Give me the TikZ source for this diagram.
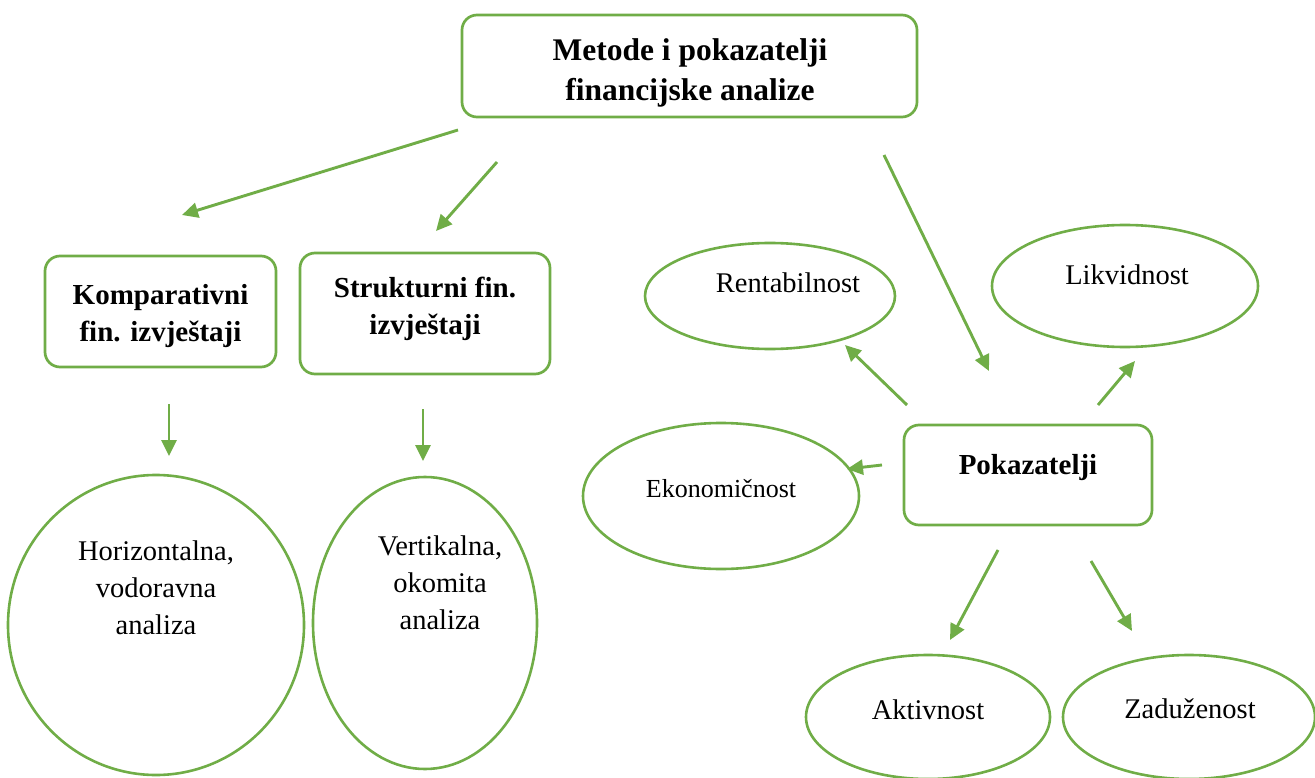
\documentclass[tikz,border=0pt]{standalone}
\usepackage{fontspec}
\setmainfont{Liberation Serif}
\usetikzlibrary{shapes.geometric,arrows.meta}
\definecolor{gr}{HTML}{70AD47}
\tikzset{
  box/.style={draw=gr,line width=2.7pt,rounded corners=15pt,inner sep=0pt},
  ell/.style={draw=gr,line width=2.6pt,ellipse,inner sep=0pt},
  btxt/.style={font=\fontsize{29}{37}\selectfont\bfseries,align=center,inner sep=0pt},
  ttxt/.style={font=\fontsize{31.5}{40}\selectfont\bfseries,align=center,inner sep=0pt},
  ntxt/.style={font=\fontsize{28.5}{37}\selectfont,align=center,inner sep=0pt},
  stxt/.style={font=\fontsize{26}{32}\selectfont,align=center,inner sep=0pt},
  arr/.style={draw=gr,line width=2.9pt,-{Triangle[length=16pt,width=15pt]}},
}
\begin{document}
\begin{tikzpicture}[x=1pt,y=-1pt]
\useasboundingbox (0,0) rectangle (1315,778);
% boxes
\node[box,minimum width=455pt,minimum height=102pt] (top) at (689.5,66) {};
\node[ttxt] (topT) at (690,73) {Metode i pokazatelji\\financijske analize};
\node[box,minimum width=231pt,minimum height=111pt] (komp) at (160.5,311.5) {};
\node[btxt] (kompT) at (160.5,316) {Komparativni\\fin. izvještaji};
\node[box,minimum width=250pt,minimum height=121pt] (str) at (425,313.5) {};
\node[btxt] (strT) at (425,309) {Strukturni fin.\\izvještaji};
\node[box,minimum width=248pt,minimum height=100pt] (pok) at (1028,475) {};
\node[btxt] (pokT) at (1028,468) {Pokazatelji};
% ellipses
\node[ell,minimum width=296pt,minimum height=300pt] (hor) at (156,625) {};
\node[ntxt] (horT) at (156,588) {Horizontalna,\\vodoravna\\analiza};
\node[ell,minimum width=224pt,minimum height=292pt] (ver) at (425,623) {};
\node[ntxt] (verT) at (440,583) {Vertikalna,\\okomita\\analiza};
\node[ell,minimum width=250pt,minimum height=106pt] (ren) at (770,296) {};
\node[ntxt] (renT) at (788,283) {Rentabilnost};
\node[ell,minimum width=266pt,minimum height=122pt] (lik) at (1125,286) {};
\node[ntxt] (likT) at (1127,275) {Likvidnost};
\node[ell,minimum width=276pt,minimum height=146pt] (eko) at (721,496) {};
\node[stxt] (ekoT) at (721,489) {Ekonomičnost};
\node[ell,minimum width=244pt,minimum height=124pt] (akt) at (928,717) {};
\node[ntxt] (aktT) at (928,710) {Aktivnost};
\node[ell,minimum width=252pt,minimum height=124pt] (zad) at (1189,717) {};
\node[ntxt] (zadT) at (1190,709) {Zaduženost};
% arrow end points
\coordinate (a1s) at (458,130); \coordinate (a1e) at (182,215);
\coordinate (a2s) at (497,162); \coordinate (a2e) at (436,231);
\coordinate (a3s) at (884,155); \coordinate (a3e) at (989,371);
\coordinate (a4s) at (169,404); \coordinate (a4e) at (169,456);
\coordinate (a5s) at (423,409); \coordinate (a5e) at (423,461);
\coordinate (a6s) at (907,405); \coordinate (a6e) at (845,345);
\coordinate (a7s) at (1098,405); \coordinate (a7e) at (1135,361);
\coordinate (a8s) at (882,465); \coordinate (a8e) at (847,469);
\coordinate (a9s) at (998,550); \coordinate (a9e) at (950,640);
\coordinate (a10s) at (1091,561); \coordinate (a10e) at (1132,631);
\foreach \i in {1,...,10} {\draw[arr] (a\i s) -- (a\i e);}
\end{tikzpicture}
\end{document}
